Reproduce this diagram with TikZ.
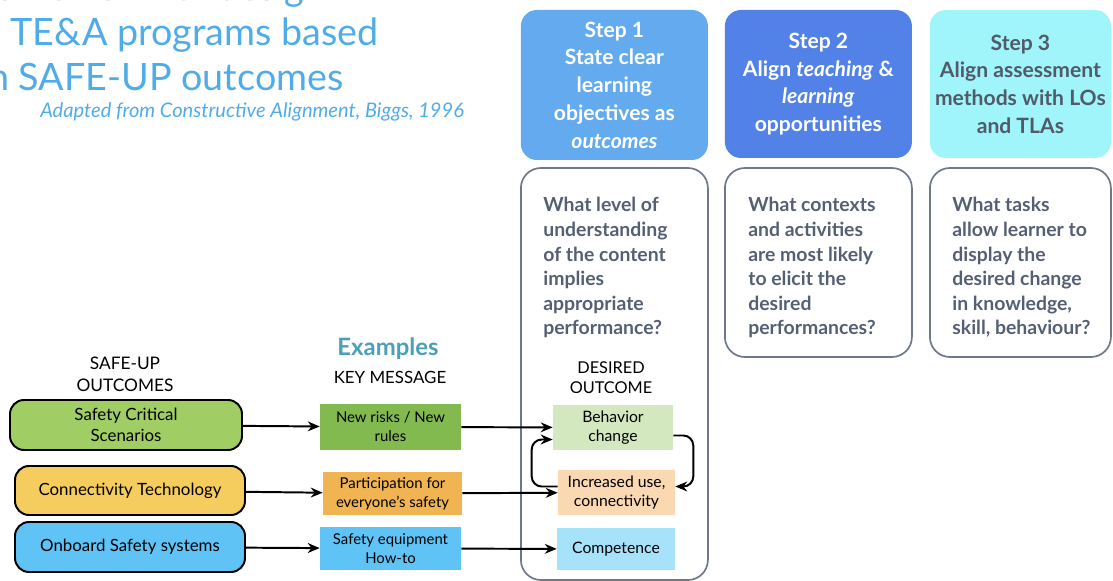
\documentclass[tikz,border=0pt]{standalone}
\usepackage{fontspec}
\setmainfont{Lato}
\usepackage{xcolor}
\usepackage{tikz}
\usetikzlibrary{arrows.meta,positioning}

\definecolor{titleblue}{RGB}{80,172,232}
\definecolor{stepone}{RGB}{100,170,238}
\definecolor{steptwo}{RGB}{82,130,232}
\definecolor{stepthree}{RGB}{160,245,250}
\definecolor{stepgrey}{RGB}{80,90,105}
\definecolor{qgrey}{RGB}{85,95,115}
\definecolor{qline}{RGB}{110,120,138}
\definecolor{examteal}{RGB}{75,160,185}
\definecolor{outgreen}{RGB}{160,206,100}
\definecolor{outyellow}{RGB}{245,205,95}
\definecolor{outblue}{RGB}{95,195,245}
\definecolor{keygreen}{RGB}{130,186,80}
\definecolor{keyorange}{RGB}{240,180,82}
\definecolor{keyblue}{RGB}{95,195,245}
\definecolor{desgreen}{RGB}{212,232,192}
\definecolor{desorange}{RGB}{250,216,178}
\definecolor{desblue}{RGB}{166,226,250}

\begin{document}
\begin{tikzpicture}[>={Stealth[length=8.5pt,width=7pt]}, node distance=1cm,
  titletext/.style={anchor=base west, text=titleblue, inner sep=0pt, font=\fontsize{26.8}{30}\selectfont},
  stepbox/.style={rectangle, rounded corners=0.4cm, minimum width=4.675cm, minimum height=3.7cm, align=center, inner sep=0pt, font=\fontsize{15}{19.7}\selectfont\bfseries},
  qbox/.style={rectangle, rounded corners=0.5cm, draw=qline, line width=1.2pt, minimum width=4.675cm},
  qtext/.style={align=left, text=qgrey, inner sep=0pt, font=\fontsize{13.8}{17.5}\selectfont\bfseries},
  outbox/.style={rectangle, rounded corners=0.35cm, draw=black, line width=1.4pt, minimum width=5.75cm, minimum height=1.25cm, align=center, font=\fontsize{12}{14.5}\selectfont},
  keybox/.style={rectangle, minimum width=3.525cm, minimum height=1.1cm, align=center, font=\fontsize{10.6}{13.5}\selectfont},
  desbox/.style={rectangle, minimum width=2.95cm, minimum height=1.1cm, align=center, font=\fontsize{11.2}{14}\selectfont},
  head/.style={align=center, inner sep=0pt, font=\fontsize{12.3}{15.5}\selectfont},
  link/.style={->, line width=1.4pt}]

\useasboundingbox (0,0) rectangle (27.825,-14.525);

% title, cut at the left
\node[titletext] (title1) at (-0.05,-0.025) {amework for design};
\node[titletext] (title2) at (0.25,-1.15) {TE\&A programs based};
\node[titletext] (title3) at (-0.3,-2.275) {n SAFE-UP outcomes};
\node[anchor=base west, text=titleblue, inner sep=0pt, font=\fontsize{14.3}{16}\selectfont\itshape] (source) at (1,-2.95) {Adapted from Constructive Alignment, Biggs, 1996};

% the three steps
\node[stepbox, fill=stepone, text=white, minimum height=3.75cm] (step1) at (15.36,-2.125) {Step 1\\State clear\\learning\\objectives as\\\textit{outcomes}};
\node[stepbox, fill=steptwo, text=white] (step2) at (20.46,-2.1) {Step 2\\Align \textit{teaching} \&\\\textit{learning}\\opportunities};
\node[stepbox, fill=stepthree, text=stepgrey, minimum width=4.525cm] (step3) at (25.51,-2.1) {Step 3\\Align assessment\\methods with LOs\\and TLAs};

\node[qbox, minimum height=10.3cm] (q1) at (15.36,-9.35) {};
\node[qbox, minimum height=4.725cm] (q2) at (20.46,-6.5625) {};
\node[qbox, minimum width=4.525cm, minimum height=4.725cm] (q3) at (25.51,-6.5625) {};

\node[qtext, below right=0.75cm and 0.575cm of q1.north west] (q1text) {What level of\\understanding\\of the content\\implies\\appropriate\\performance?};
\node[qtext, below right=0.75cm and 0.6cm of q2.north west] (q2text) {What contexts\\and activities\\are most likely\\to elicit the\\desired\\performances?};
\node[qtext, below right=0.75cm and 0.575cm of q3.north west] (q3text) {What tasks\\allow learner to\\display the\\desired change\\in knowledge,\\skill, behaviour?};

% examples
\node[head] (safeup) at (3.125,-9.35) {SAFE-UP\\OUTCOMES};
\node[anchor=base, inner sep=0pt, text=examteal, font=\fontsize{17}{20}\selectfont\bfseries] (examples) at (9.7,-8.875) {Examples};
\node[anchor=base, inner sep=0pt, font=\fontsize{12}{15}\selectfont] (keymsg) at (9.75,-9.575) {KEY MESSAGE};
\node[head, font=\fontsize{11.6}{14.5}\selectfont] (desired) at (15.275,-9.44) {DESIRED\\OUTCOME};

\node[outbox, fill=outgreen, minimum width=5.8cm] (scs) at (3.15,-10.625) {Safety Critical\\Scenarios};
\node[outbox, fill=outyellow, minimum height=1.225cm] (ct) at (3.25,-12.2625) {Connectivity Technology};
\node[outbox, fill=outblue] (oss) at (3.25,-13.675) {Onboard Safety systems};

\node[keybox, fill=keygreen, minimum height=1.15cm] (nr) at (9.7625,-10.675) {New risks / New\\rules};
\node[keybox, fill=keyorange, minimum width=3.475cm, minimum height=1.075cm] (pe) at (9.8125,-12.3375) {Participation for\\everyone's safety};
\node[keybox, fill=keyblue, minimum height=1.075cm] (se) at (9.7625,-13.7125) {Safety equipment\\How-to};

\node[desbox, fill=desgreen, minimum width=3cm, minimum height=1.125cm] (bc) at (15.325,-10.6875) {Behavior\\change};
\node[desbox, fill=desorange, minimum width=2.925cm, minimum height=1.125cm] (iu) at (15.4125,-12.3125) {Increased use,\\connectivity};
\node[desbox, fill=desblue, minimum height=1.05cm] (co) at (15.4,-13.725) {Competence};

\path[link]
    (scs) edge (nr)
    (ct)  edge (pe)
    (oss) edge (se)
    (nr)  edge (bc)
    (pe)  edge (iu)
    (se)  edge (co);

\draw[link, rounded corners=0.25cm] ([yshift=-0.2cm]bc.east) -- ++(0.5,0) |- ([yshift=0.15cm]iu.east);
\draw[link, rounded corners=0.25cm] ([yshift=0.15cm]iu.west) -- ++(-0.65,0) |- ([yshift=-0.3cm]bc.west);
\end{tikzpicture}
\end{document}
